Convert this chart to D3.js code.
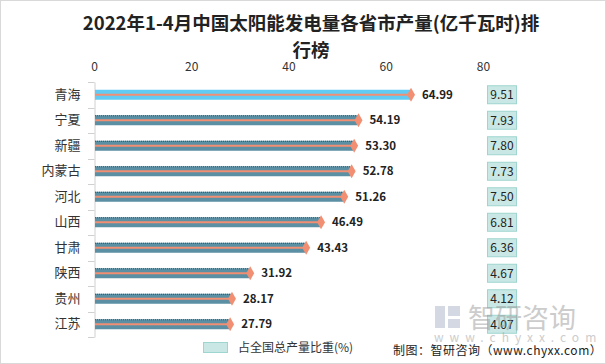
<!DOCTYPE html>
<html>
<head>
<meta charset="utf-8">
<script src="https://cdn.jsdelivr.net/npm/d3@7"></script>
<style>
  body { margin: 0; background: #fff; }
  svg { display: block; font-family: "Noto Sans CJK SC", "Microsoft YaHei", sans-serif; }
</style>
</head>
<body>
<svg id="main-svg" width="606" height="364"></svg>
<script>
// data
const provinces = ['青海', '宁夏', '新疆', '内蒙古', '河北', '山西', '甘肃', '陕西', '贵州', '江苏'];
const output = [64.99, 54.19, 53.30, 52.78, 51.26, 46.49, 43.43, 31.92, 28.17, 27.79];
const share = [9.51, 7.93, 7.80, 7.73, 7.50, 6.81, 6.36, 4.67, 4.12, 4.07];
const xTicks = [0, 20, 40, 60, 80];

const svg = d3.select('#main-svg');

// outer frame
svg.append('rect')
    .attr('x', 0.5).attr('y', 0.5)
    .attr('width', 605).attr('height', 363)
    .attr('fill', '#fff')
    .attr('stroke', '#d9d9d9');

// title
const title = svg.append('text')
    .attr('text-anchor', 'middle')
    .attr('font-size', 18.5)
    .attr('font-weight', 'bold')
    .attr('fill', '#222');
title.append('tspan').attr('x', 311).attr('y', 30).text('2022年1-4月中国太阳能发电量各省市产量(亿千瓦时)排');
title.append('tspan').attr('x', 311).attr('y', 57).text('行榜');

// scales
const x = d3.scaleLinear().domain([0, 80]).range([94, 483]);
const y = d3.scaleBand().domain(provinces).range([82, 337]);
const barH = 10;

// top value axis (labels only)
svg.append('g')
    .attr('transform', 'translate(0,71)')
    .call(d3.axisTop(x).tickValues(xTicks).tickSize(0).tickPadding(0))
    .call(g => g.select('.domain').remove())
    .call(g => g.selectAll('text')
        .attr('font-size', 12)
        .attr('fill', '#333')
        .attr('dy', 0)
        .attr('font-family', '"Noto Sans CJK SC", sans-serif'));

// category axis
svg.append('g')
    .attr('transform', 'translate(94.5,0)')
    .call(d3.axisLeft(y).tickSize(0).tickPadding(14))
    .call(g => g.select('.domain').attr('stroke', '#d0d0d0'))
    .call(g => g.selectAll('text')
        .attr('font-size', 13)
        .attr('fill', '#333')
        .attr('font-family', '"Noto Sans CJK SC", sans-serif'));

// small boundary ticks on the category axis
const bounds = provinces.map(p => y(p)).concat([y.range()[1]]);
svg.append('g').selectAll('line')
    .data(bounds)
    .enter()
    .append('line')
    .attr('x1', 88).attr('x2', 94.5)
    .attr('y1', d => Math.round(d) + 0.5)
    .attr('y2', d => Math.round(d) + 0.5)
    .attr('stroke', '#d0d0d0');

const rows = provinces.map((p, i) => ({ name: p, value: output[i], pct: share[i], i }));

// bars
const bars = svg.append('g');
bars.selectAll('rect')
    .data(rows)
    .enter()
    .append('rect')
    .attr('x', x(0) + 1)
    .attr('y', d => y(d.name) + y.bandwidth() / 2 - barH / 2)
    .attr('width', d => x(d.value) - x(0) - 1)
    .attr('height', barH)
    .attr('fill', d => d.i === 0 ? '#62CBF3' : '#5B8FA3');

// dotted top edge on the darker bars
bars.selectAll('line')
    .data(rows.filter(d => d.i > 0))
    .enter()
    .append('line')
    .attr('x1', x(0) + 1)
    .attr('x2', d => x(d.value))
    .attr('y1', d => y(d.name) + y.bandwidth() / 2 - barH / 2 + 0.5)
    .attr('y2', d => y(d.name) + y.bandwidth() / 2 - barH / 2 + 0.5)
    .attr('stroke', '#2E5566')
    .attr('stroke-dasharray', '1,1');

// orange lines with diamond ends
const marks = svg.append('g');
marks.selectAll('line')
    .data(rows)
    .enter()
    .append('line')
    .attr('x1', x(0) + 1)
    .attr('x2', d => x(d.value))
    .attr('y1', d => y(d.name) + y.bandwidth() / 2)
    .attr('y2', d => y(d.name) + y.bandwidth() / 2)
    .attr('stroke', '#F28F73')
    .attr('stroke-width', 2);

marks.selectAll('path')
    .data(rows)
    .enter()
    .append('path')
    .attr('d', d3.symbol(d3.symbolDiamond, 55))
    .attr('transform', d => `translate(${x(d.value) + 1},${y(d.name) + y.bandwidth() / 2})`)
    .attr('fill', '#F28F73');

// value labels
svg.append('g').selectAll('text')
    .data(rows)
    .enter()
    .append('text')
    .attr('x', d => x(d.value) + 12)
    .attr('y', d => y(d.name) + y.bandwidth() / 2 + 4)
    .attr('font-size', 11.5)
    .attr('font-weight', 'bold')
    .attr('fill', '#222')
    .text(d => d.value.toFixed(2));

// share boxes on the right
const boxes = svg.append('g').selectAll('g')
    .data(rows)
    .enter()
    .append('g')
    .attr('transform', d => `translate(487,${y(d.name) + y.bandwidth() / 2})`);
boxes.append('rect')
    .attr('x', 0.5).attr('y', -9)
    .attr('width', 29).attr('height', 18)
    .attr('fill', '#C9E8E5')
    .attr('stroke', '#9ED5D0');
boxes.append('text')
    .attr('x', 15).attr('y', 4.5)
    .attr('text-anchor', 'middle')
    .attr('font-size', 12)
    .attr('fill', '#222')
    .text(d => d.pct.toFixed(2));

// watermark (sits behind nothing, drawn faintly like the reference)
const wm = svg.append('g').attr('opacity', 0.5);
wm.append('rect').attr('x', 435).attr('y', 306).attr('width', 10).attr('height', 22).attr('fill', '#a9b3c9');
wm.append('rect').attr('x', 448).attr('y', 306).attr('width', 12).attr('height', 10).attr('fill', '#a9b3c9');
wm.append('rect').attr('x', 448).attr('y', 319).attr('width', 12).attr('height', 9).attr('fill', '#a9b3c9');
wm.append('text')
    .attr('x', 468).attr('y', 328)
    .attr('font-size', 27)
    .attr('fill', '#9a9a9a')
    .text('智研咨询');
wm.append('text')
    .attr('x', 434).attr('y', 342)
    .attr('font-size', 12)
    .attr('letter-spacing', 6)
    .attr('fill', '#9a9a9a')
    .text('www.chyxx.com');

// legend
svg.append('rect')
    .attr('x', 203.5).attr('y', 342.5)
    .attr('width', 24).attr('height', 10)
    .attr('fill', '#C9E8E5')
    .attr('stroke', '#9ED5D0');
svg.append('text')
    .attr('x', 238).attr('y', 352)
    .attr('font-size', 12)
    .attr('fill', '#333')
    .text('占全国总产量比重(%)');

// source note
svg.append('text')
    .attr('x', 393).attr('y', 355)
    .attr('font-size', 12)
    .attr('letter-spacing', 0.5)
    .attr('fill', '#222')
    .text('制图：智研咨询（www.chyxx.com）');
</script>
</body>
</html>
